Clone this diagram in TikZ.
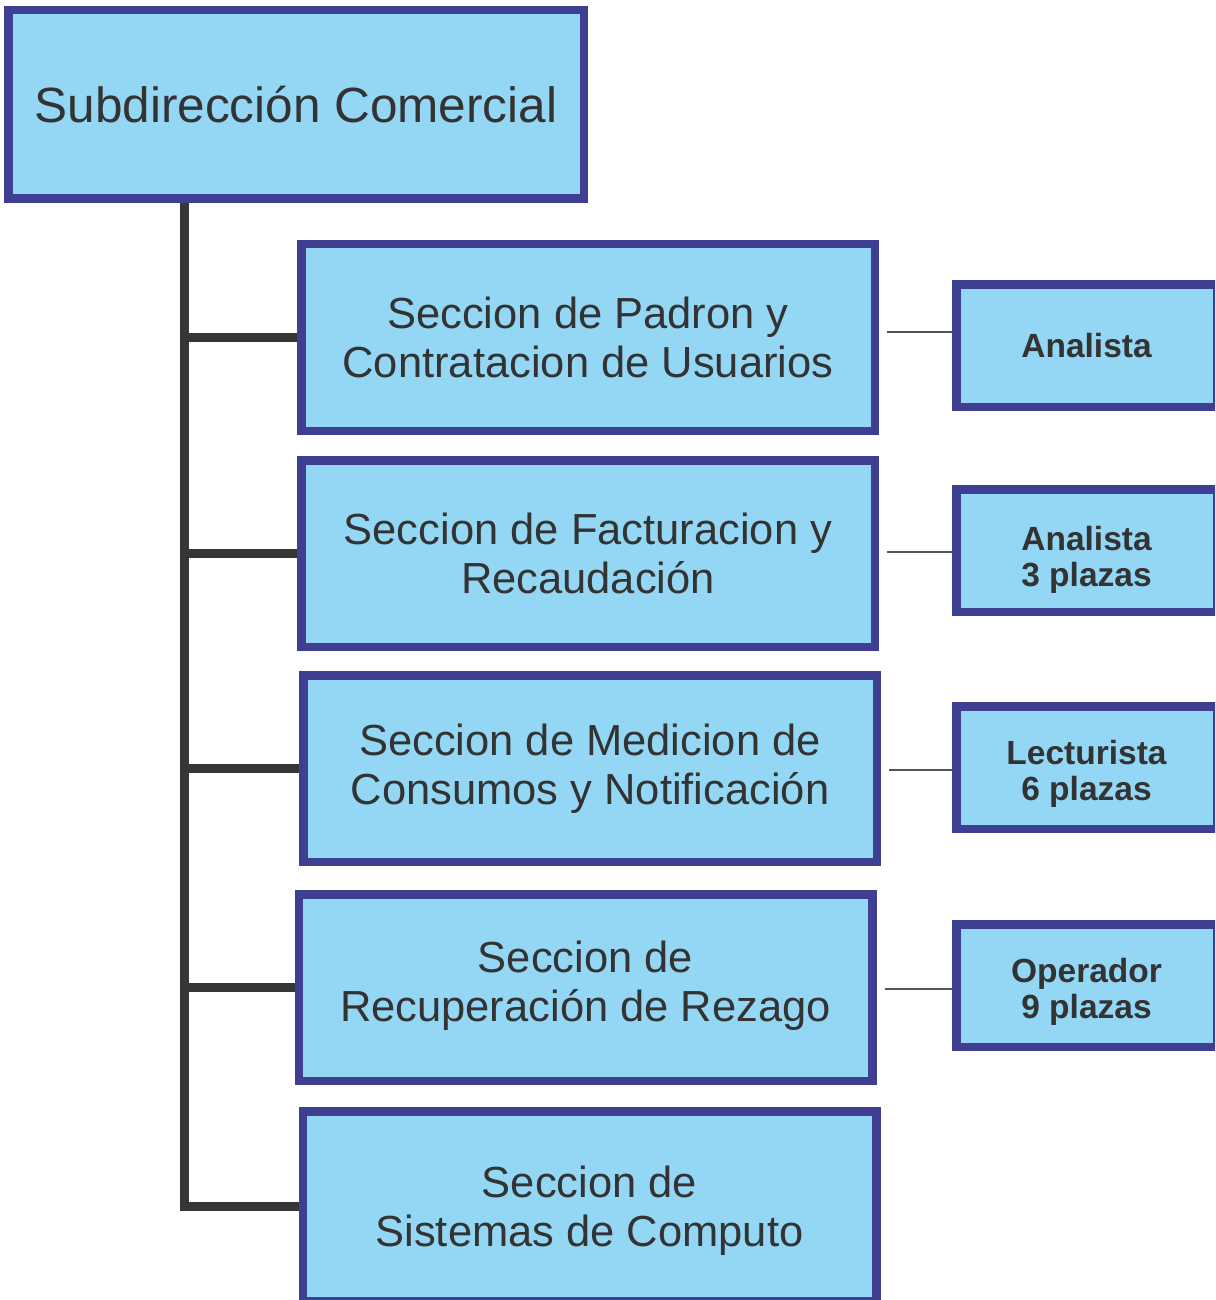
\documentclass[tikz,border=0pt]{standalone}
\usepackage{fontspec}
\setmainfont{Liberation Sans}
\definecolor{fillc}{HTML}{93D7F4}
\definecolor{bord}{HTML}{3E3F93}
\definecolor{txt}{HTML}{333333}
\definecolor{trunkc}{HTML}{363636}
\definecolor{thinc}{HTML}{555555}
\pgfdeclarelayer{bg}
\pgfsetlayers{bg,main}
\begin{document}
\begin{tikzpicture}[x=0.5pt,y=-0.5pt,
  box/.style={draw=bord, fill=fillc, line width=4.25pt, inner sep=0pt, align=center, text=txt},
  mainbox/.style={box, minimum width=287.75pt, minimum height=94.25pt, font=\fontsize{24.75}{29}\selectfont},
  secbox/.style={box, minimum width=286.75pt, minimum height=93.25pt, font=\fontsize{21.75}{24.5}\selectfont},
  posbox/.style={box, minimum width=130.25pt, minimum height=61.25pt, font=\bfseries\fontsize{16.75}{18.25}\selectfont},
  twoline/.style={text height=36.5pt, text depth=3.5pt},
  trunk/.style={draw=trunkc, line width=4.5pt},
  thinline/.style={draw=thinc, line width=0.75pt}]
\useasboundingbox (0,0) rectangle (1215,1300);
\clip (0,0) rectangle (1215,1300);
\node[mainbox] (top) at (296,104.5) {Subdirección Comercial};
\node[secbox] (s1) at (588,337.5) {Seccion de Padron y\\Contratacion de Usuarios};
\node[secbox] (s2) at (588,553.5) {Seccion de Facturacion y\\Recaudación};
\node[secbox] (s3) at (590,768.5) {Seccion de Medicion de\\Consumos y Notificación};
\node[secbox, text height=38.1pt, text depth=4.6pt] (s4) at (585.5,987.5) {Seccion de\\Recuperación de Rezago};
\node[secbox, minimum height=95pt, text height=44.35pt, text depth=4.6pt] (s5) at (589.5,1206.25) {Seccion de\\Sistemas de Computo};
\node[posbox] (r1) at (1086.5,345.5) {Analista};
\node[posbox, twoline, text height=39.5pt] (r2) at (1086.5,550.5) {Analista\\3 plazas};
\node[posbox, twoline] (r3) at (1086.5,767.5) {Lecturista\\6 plazas};
\node[posbox, twoline] (r4) at (1086.5,985.5) {Operador\\9 plazas};
\coordinate (tt) at ([xshift=-56pt]top.south);
\begin{pgfonlayer}{bg}
\draw[trunk] (tt) |- (s5.west);
\draw[trunk] (s1.west -| tt) -- (s1.west);
\draw[trunk] (s2.west -| tt) -- (s2.west);
\draw[trunk] (s3.west -| tt) -- (s3.west);
\draw[trunk] (s4.west -| tt) -- (s4.west);
\draw[thinline] ([xshift=4pt,yshift=2.75pt]s1.east) -- ([yshift=2.75pt]s1.east -| r1.west);
\draw[thinline] ([xshift=4pt,yshift=0.75pt]s2.east) -- ([yshift=0.75pt]s2.east -| r2.west);
\draw[thinline] ([xshift=4pt,yshift=-0.75pt]s3.east) -- ([yshift=-0.75pt]s3.east -| r3.west);
\draw[thinline] ([xshift=4pt,yshift=-0.75pt]s4.east) -- ([yshift=-0.75pt]s4.east -| r4.west);
\end{pgfonlayer}
\end{tikzpicture}
\end{document}
